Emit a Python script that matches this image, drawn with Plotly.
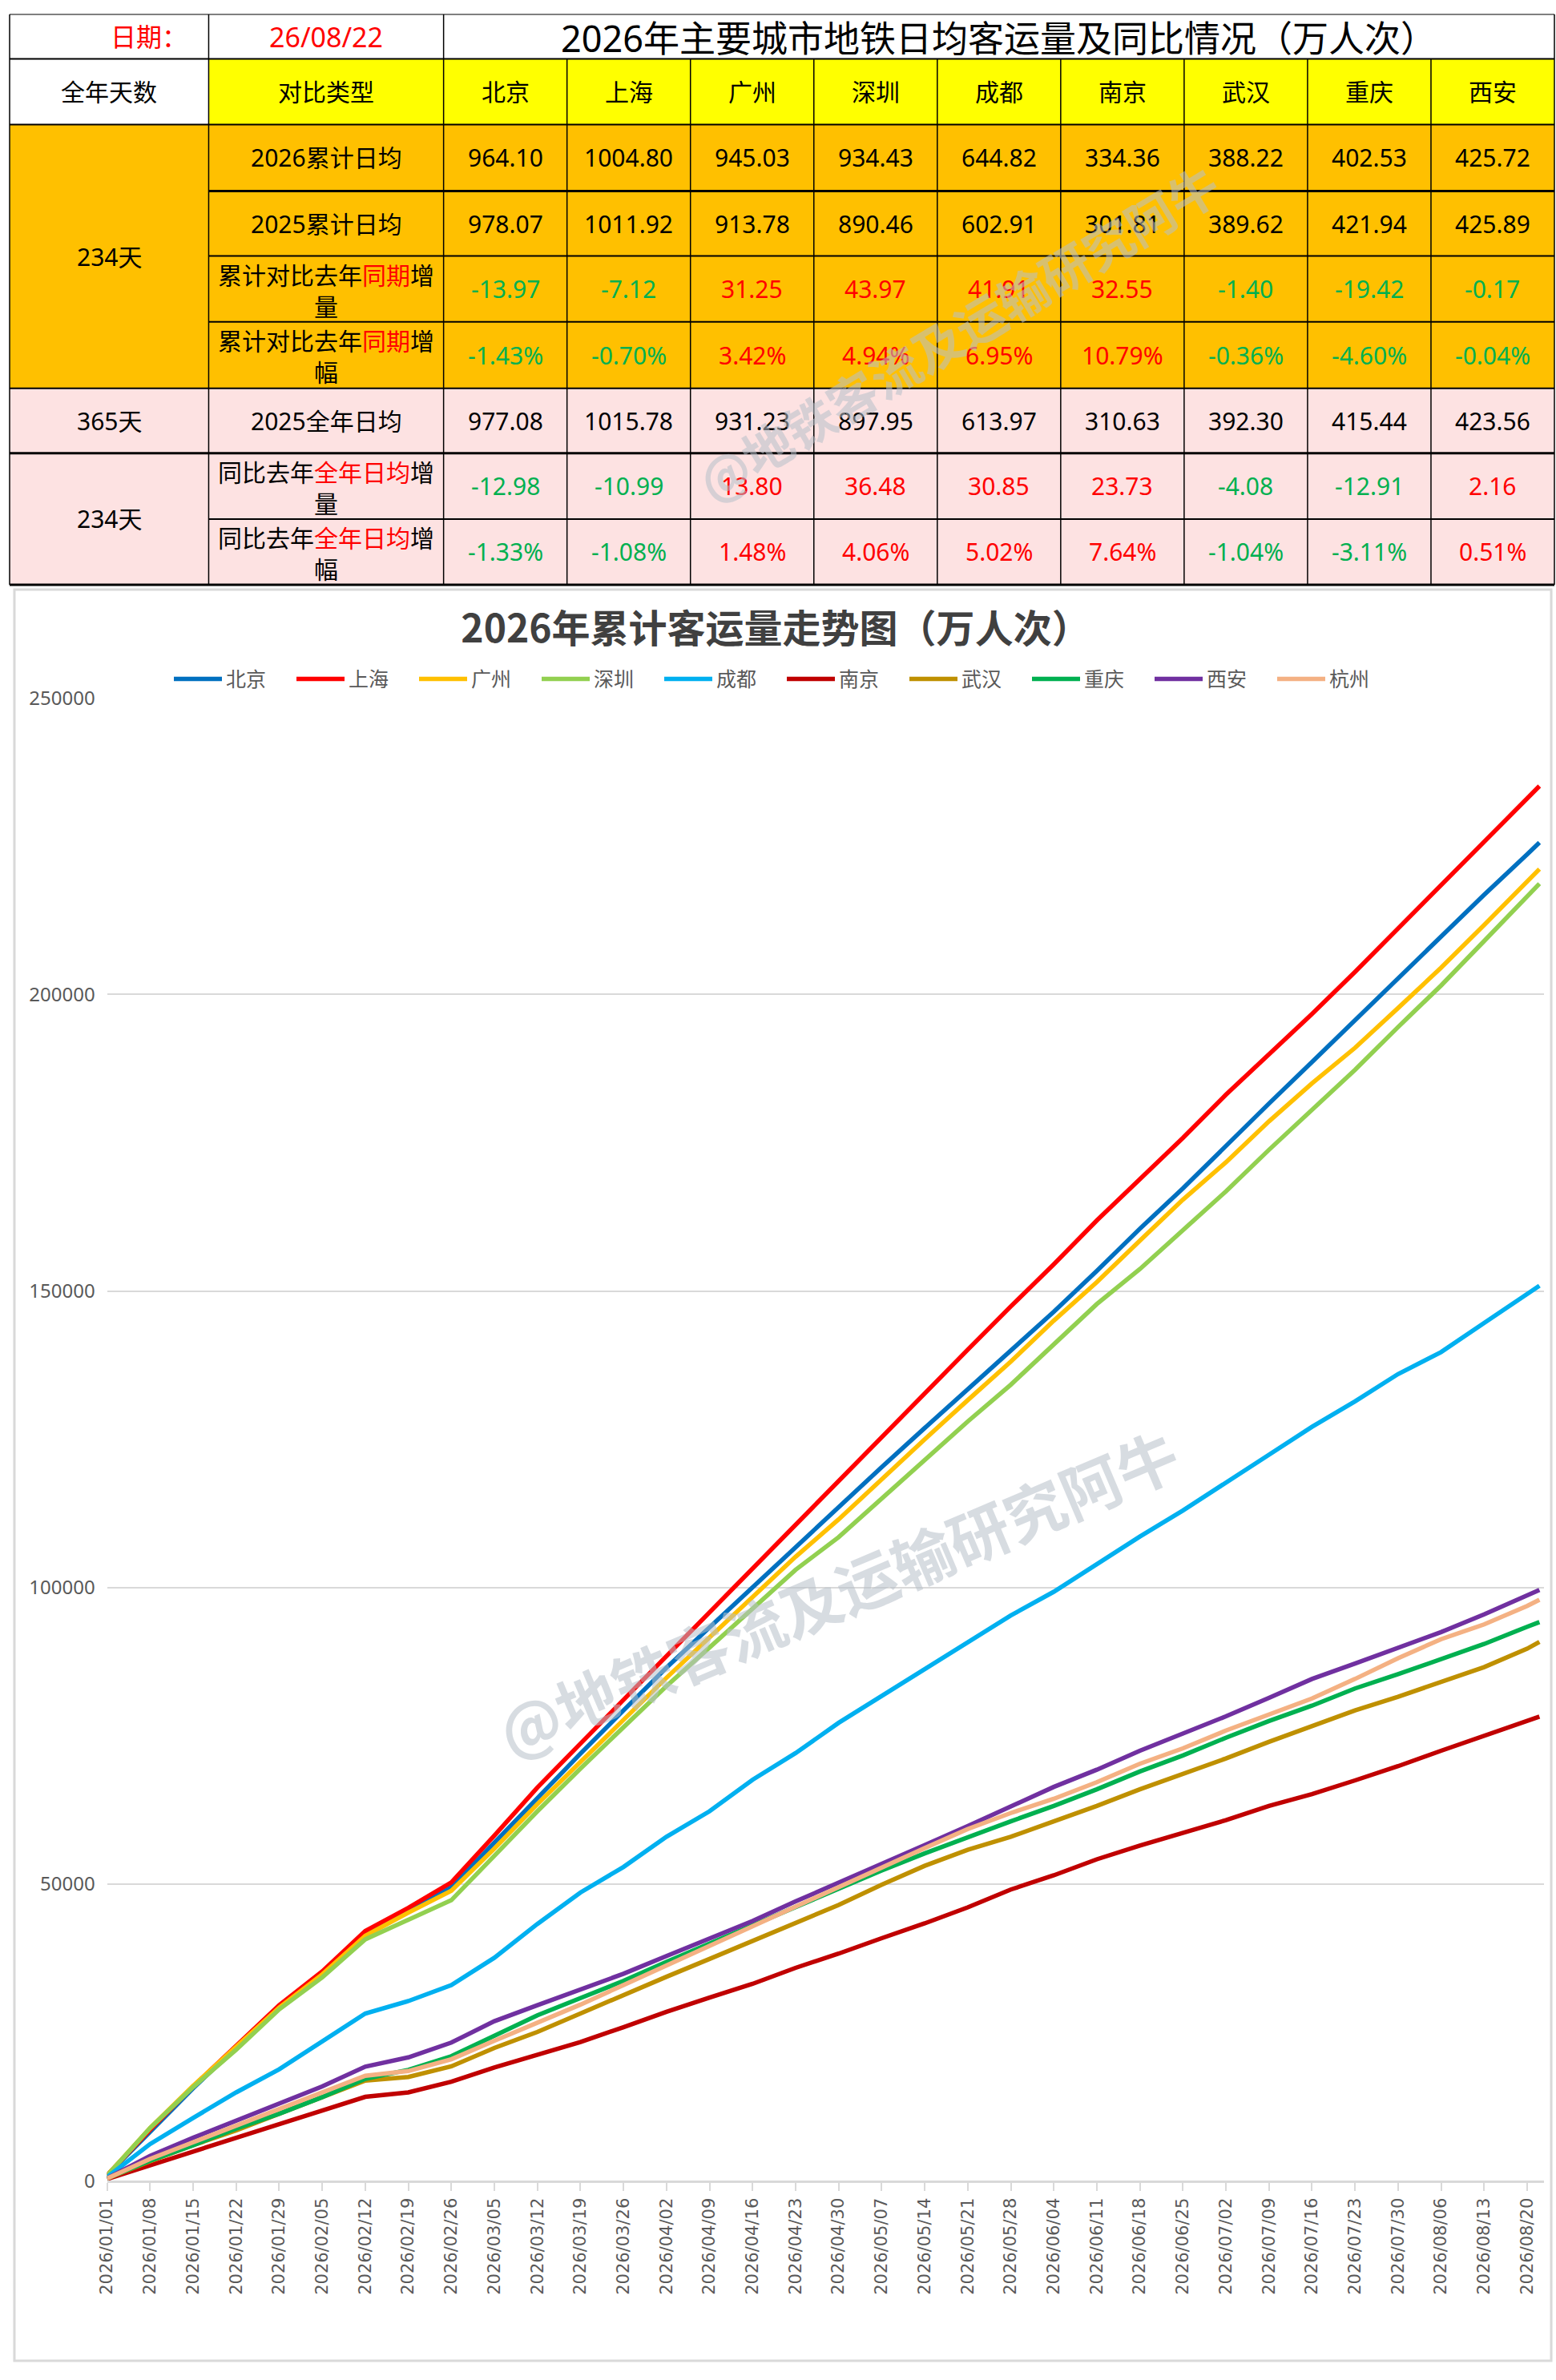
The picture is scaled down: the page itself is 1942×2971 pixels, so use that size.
"""
2026 metro ridership: summary table + cumulative ridership trend chart.
"""

import plotly.graph_objects as go

W, H = 1942, 2971

# ---------------- table data ----------------
report_date = '26/08/22'
table_title = '2026年主要城市地铁日均客运量及同比情况（万人次）'
table_cities = ['北京', '上海', '广州', '深圳', '成都', '南京', '武汉', '重庆', '西安']

avg_2026_ytd = [964.10, 1004.80, 945.03, 934.43, 644.82, 334.36, 388.22, 402.53, 425.72]
avg_2025_ytd = [978.07, 1011.92, 913.78, 890.46, 602.91, 301.81, 389.62, 421.94, 425.89]
diff_ytd = [-13.97, -7.12, 31.25, 43.97, 41.91, 32.55, -1.40, -19.42, -0.17]
pct_ytd = [-1.43, -0.70, 3.42, 4.94, 6.95, 10.79, -0.36, -4.60, -0.04]
avg_2025_full = [977.08, 1015.78, 931.23, 897.95, 613.97, 310.63, 392.30, 415.44, 423.56]
diff_full = [-12.98, -10.99, 13.80, 36.48, 30.85, 23.73, -4.08, -12.91, 2.16]
pct_full = [-1.33, -1.08, 1.48, 4.06, 5.02, 7.64, -1.04, -3.11, 0.51]

# ---------------- chart data (万人次, cumulative, read weekly) ----------------
dates = ['2026-01-01', '2026-01-08', '2026-01-15', '2026-01-22', '2026-01-29',
         '2026-02-05', '2026-02-12', '2026-02-19', '2026-02-26', '2026-03-05',
         '2026-03-12', '2026-03-19', '2026-03-26', '2026-04-02', '2026-04-09',
         '2026-04-16', '2026-04-23', '2026-04-30', '2026-05-07', '2026-05-14',
         '2026-05-21', '2026-05-28', '2026-06-04', '2026-06-11', '2026-06-18',
         '2026-06-25', '2026-07-02', '2026-07-09', '2026-07-16', '2026-07-23',
         '2026-07-30', '2026-08-06', '2026-08-13', '2026-08-20', '2026-08-22']

beijing = [900, 8300, 15600, 22500, 29300, 35000, 41700, 45400, 49500, 57000,
           64600, 72000, 79300, 86500, 93300, 100100, 106800, 113600, 120300, 126900,
           133500, 140100, 146500, 153400, 160500, 167300, 174500, 181600, 188600, 195700,
           202700, 209900, 216800, 223600, 225599]
shanghai = [950, 8600, 15900, 22800, 29600, 35300, 42100, 46000, 50300, 58200,
            66300, 73700, 81100, 88500, 95900, 103300, 110700, 118000, 125300, 132700,
            140100, 147400, 154500, 161900, 168900, 175800, 183100, 189900, 196700, 203800,
            211100, 218500, 225600, 233100, 235123]
guangzhou = [900, 8900, 16000, 22600, 29200, 34800, 41300, 45200, 48900, 56000,
             63500, 70600, 77700, 84800, 91600, 98400, 105200, 111500, 118300, 125000,
             131600, 138100, 145000, 151500, 158500, 165400, 171700, 178600, 185000, 191000,
             197700, 204500, 211700, 219000, 221137]
shenzhen = [880, 8900, 15800, 22100, 28900, 34300, 40700, 44000, 47300, 54800,
            62300, 69500, 76500, 83400, 89900, 96500, 103000, 108500, 115000, 121600,
            128000, 134200, 141000, 147800, 153700, 160300, 166800, 173800, 180500, 187300,
            194500, 201500, 209000, 216500, 218657]
chengdu = [620, 6200, 10600, 14900, 18800, 23600, 28200, 30300, 33000, 37600,
           43300, 48600, 52900, 58000, 62300, 67600, 72100, 77200, 81700, 86300,
           90900, 95300, 99300, 104000, 108600, 113000, 117800, 122400, 127100, 131400,
           136000, 139700, 144600, 149600, 150888]
nanjing = [300, 2650, 4950, 7250, 9550, 11850, 14150, 14900, 16700, 19100,
           21200, 23400, 25900, 28500, 30900, 33200, 35900, 38300, 40900, 43400,
           46100, 49100, 51500, 54200, 56500, 58700, 60800, 63200, 65200, 67500,
           69900, 72500, 75000, 77550, 78240]
wuhan = [380, 3300, 6000, 8500, 11300, 14100, 16900, 17500, 19300, 22400,
         25100, 28200, 31400, 34400, 37400, 40400, 43400, 46500, 49900, 53100,
         55800, 58000, 60600, 63200, 66000, 68600, 71200, 74000, 76600, 79300,
         81600, 84100, 86600, 89700, 90843]
chongqing = [420, 3400, 6000, 8800, 11300, 14100, 17200, 18700, 21000, 24500,
             27900, 30800, 33700, 36900, 40000, 43000, 46100, 49300, 52300, 55200,
             58000, 60600, 63200, 66000, 69000, 71700, 74700, 77500, 80100, 83000,
             85400, 87900, 90500, 93400, 94192]
xian = [400, 4200, 7250, 10100, 12900, 15900, 19250, 20800, 23300, 26900,
        29600, 32200, 34900, 37900, 40900, 43800, 47100, 50200, 53400, 56600,
        59800, 63000, 66400, 69300, 72500, 75400, 78300, 81400, 84600, 87200,
        89800, 92500, 95500, 98700, 99618]
hangzhou = [380, 3700, 6500, 9300, 12100, 14900, 17700, 18500, 20500, 23600,
            26600, 29700, 33000, 36300, 39600, 43000, 46300, 49700, 52900, 56100,
            59300, 62000, 64400, 67200, 70300, 72900, 75900, 78700, 81300, 84600,
            88100, 91300, 93800, 96900, 97950]

series_names = ['北京', '上海', '广州', '深圳', '成都', '南京', '武汉', '重庆', '西安', '杭州']
series_values = [beijing, shanghai, guangzhou, shenzhen, chengdu,
                 nanjing, wuhan, chongqing, xian, hangzhou]
series_colors = ['#0070C0', '#FF0000', '#FFC000', '#92D050', '#00B0F0',
                 '#C00000', '#BF9000', '#00B050', '#7030A0', '#F4B183']

FONT = 'Noto Sans, Noto Sans CJK SC'
RED, GREEN = '#FF0000', '#00B050'


def px(x):
    return x / W


def py(y):
    return 1 - y / H


fig = go.Figure()

for name, vals, color in zip(series_names, series_values, series_colors):
    fig.add_trace(go.Scatter(
        x=dates, y=vals, name=name, mode='lines',
        line=dict(color=color, width=5.5),
    ))

# ---------------- table layout (pixel grid) ----------------
col_edges = [0, 250, 545, 700, 855, 1010, 1165, 1320, 1475, 1630, 1785, 1940]
row_edges = [0, 56, 139, 223, 305, 388, 472, 554, 637, 720]

shapes = []


def rect(x0, y0, x1, y1, fill, line_color=None, line_width=0, layer='below'):
    shapes.append(dict(
        type='rect', xref='paper', yref='paper',
        x0=px(x0), x1=px(x1), y0=py(y1), y1=py(y0),
        fillcolor=fill, line=dict(color=line_color or fill, width=line_width),
        layer=layer,
    ))


def hline(y, x0, x1, width=2):
    shapes.append(dict(type='line', xref='paper', yref='paper',
                       x0=px(x0), x1=px(x1), y0=py(y), y1=py(y),
                       line=dict(color='black', width=width)))


def vline(x, y0, y1, width=1.5):
    shapes.append(dict(type='line', xref='paper', yref='paper',
                       x0=px(x), x1=px(x), y0=py(y0), y1=py(y1),
                       line=dict(color='black', width=width)))


# backgrounds
rect(0, 56, 250, 139, 'white')
rect(250, 56, 1940, 139, '#FFFF00')
rect(0, 139, 1940, 472, '#FFC000')
rect(0, 472, 1940, 720, '#FDE2E2')

# chart frame
rect(6, 726, 1936, 2962, 'rgba(0,0,0,0)', '#D9D9D9', 3)

# grid lines (merged cells leave gaps)
hline(0, 0, 1940, 1)
hline(56, 0, 1940)
hline(139, 0, 1940)
hline(223, 250, 1940, 3)
hline(305, 250, 1940)
hline(388, 250, 1940)
hline(472, 0, 1940)
hline(554, 0, 1940, 3)
hline(637, 250, 1940)
hline(720, 0, 1940, 3)
for x in col_edges[:3] + [col_edges[-1]]:
    vline(x, 0, 720)
for x in col_edges[3:-1]:
    vline(x, 56, 720)

annotations = []


def cell_text(text, x, y, size=30, color='black', xanchor='center'):
    annotations.append(dict(
        text=text, x=px(x), y=py(y), xref='paper', yref='paper',
        xanchor=xanchor, yanchor='middle', showarrow=False,
        font=dict(family=FONT, size=size, color=color),
    ))


def row_mid(r):
    return (row_edges[r] + row_edges[r + 1]) / 2


def col_mid(c):
    return (col_edges[c] + col_edges[c + 1]) / 2


def red(s):
    return "<span style='color:%s'>%s</span>" % (RED, s)


# title row
cell_text('日期：', 225, row_mid(0), size=32, color=RED, xanchor='right')
cell_text(report_date, col_mid(1), row_mid(0), size=34, color=RED)
cell_text(table_title, (545 + 1940) / 2, row_mid(0) + 2, size=45)

# header row
cell_text('全年天数', col_mid(0), row_mid(1))
cell_text('对比类型', col_mid(1), row_mid(1))
for i, c in enumerate(table_cities):
    cell_text(c, col_mid(i + 2), row_mid(1))

# left column
cell_text('234天', col_mid(0), (row_edges[2] + row_edges[6]) / 2)
cell_text('365天', col_mid(0), row_mid(6))
cell_text('234天', col_mid(0), (row_edges[7] + row_edges[9]) / 2)

row_labels = [
    '2026累计日均',
    '2025累计日均',
    '累计对比去年' + red('同期') + '增<br>量',
    '累计对比去年' + red('同期') + '增<br>幅',
    '2025全年日均',
    '同比去年' + red('全年日均') + '增<br>量',
    '同比去年' + red('全年日均') + '增<br>幅',
]
row_data = [avg_2026_ytd, avg_2025_ytd, diff_ytd, pct_ytd,
            avg_2025_full, diff_full, pct_full]
signed_rows = {2, 3, 5, 6}
pct_rows = {3, 6}

for r, (label, vals) in enumerate(zip(row_labels, row_data)):
    ry = row_mid(r + 2)
    cell_text(label, col_mid(1), ry + (2 if '<br>' in label else 0))
    for i, v in enumerate(vals):
        txt = '%.2f' % v + ('%' if r in pct_rows else '')
        color = 'black'
        if r in signed_rows:
            color = GREEN if v < 0 else RED
        cell_text(txt, col_mid(i + 2), ry, color=color)

# watermark
for (wx, wy, ang, size) in [(1190, 400, -31, 62), (1040, 1990, -23, 76)]:
    annotations.append(dict(
        text='<b>@地铁客流及运输研究阿牛</b>', x=px(wx), y=py(wy),
        xref='paper', yref='paper', xanchor='center', yanchor='middle',
        showarrow=False, textangle=ang,
        font=dict(family='Noto Sans CJK SC', size=size, color='#B8C0CA'),
        opacity=0.55,
    ))

fig.update_layout(
    width=W, height=H,
    margin=dict(l=0, r=0, t=0, b=0),
    paper_bgcolor='white', plot_bgcolor='white',
    shapes=shapes, annotations=annotations,
    title=dict(
        text='<b>2026年累计客运量走势图（万人次）</b>',
        x=px(968), y=py(785), xanchor='center', yanchor='middle',
        font=dict(family='Noto Sans CJK SC', size=48, color='#404040'),
    ),
    legend=dict(
        orientation='h', x=0.5, xanchor='center', y=py(839), yanchor='middle',
        font=dict(family='Noto Sans CJK SC', size=25, color='#595959'),
        entrywidth=78, itemwidth=60, bgcolor='rgba(0,0,0,0)',
    ),
    xaxis=dict(
        type='date', domain=[px(122.4), px(1927)],
        range=['2026-01-01', '2026-08-22 18:00'],
        tick0='2026-01-01', dtick=7 * 86400000, tickformat='%Y/%m/%d',
        tickangle=-90, ticks='outside', ticklen=10, tickcolor='#D9D9D9',
        tickwidth=2, showgrid=False, showline=True, linecolor='#D9D9D9',
        linewidth=3, tickfont=dict(family='DejaVu Sans', size=21, color='#595959'),
    ),
    yaxis=dict(
        domain=[py(2734.7), py(862.7)], range=[0, 250000], dtick=50000,
        tickformat='d', showgrid=True, gridcolor='#D9D9D9', gridwidth=2,
        zeroline=False, showline=False, ticks='', ticklabelstandoff=14,
        tickfont=dict(family='Noto Sans', size=24, color='#595959'),
    ),
    showlegend=True,
)

fig.write_html('out.html', config={'displayModeBar': False},
               post_script="document.body.style.margin='0';")
